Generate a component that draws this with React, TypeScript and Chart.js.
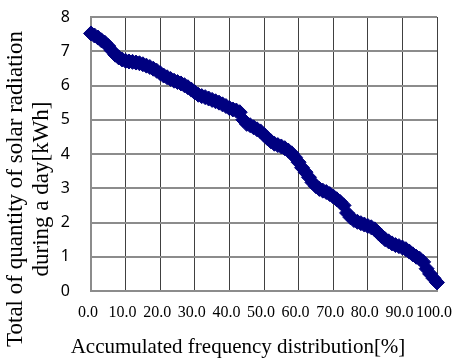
import React, { useEffect, useRef } from "react";
import { Chart, registerables } from "chart.js";

Chart.register(...registerables);

// Accumulated frequency distribution [%]
const frequencyPct: number[] = [
  0, 1, 2, 3, 4, 5, 6, 7, 8, 9,
  10, 11, 12, 13, 14, 15, 16, 17, 18, 19,
  20, 21, 22, 23, 24, 25, 26, 27, 28, 29,
  30, 31, 32, 33, 34, 35, 36, 37, 38, 39,
  40, 41, 42, 43, 44, 45, 46, 47, 48, 49,
  50, 51, 52, 53, 54, 55, 56, 57, 58, 59,
  60, 61, 62, 63, 64, 65, 66, 67, 68, 69,
  70, 71, 72, 73, 74, 75, 76, 77, 78, 79,
  80, 81, 82, 83, 84, 85, 86, 87, 88, 89,
  90, 91, 92, 93, 94, 95, 96, 97, 98, 99,
  100,
];

// Total quantity of solar radiation during a day [kWh]
const solarKWh: number[] = [
  7.52, 7.46, 7.4, 7.32, 7.25, 7.15, 7.02, 6.9, 6.82, 6.76,
  6.72, 6.7, 6.69, 6.67, 6.65, 6.62, 6.58, 6.54, 6.49, 6.43,
  6.36, 6.29, 6.24, 6.19, 6.14, 6.1, 6.06, 6.01, 5.95, 5.88,
  5.8, 5.73, 5.69, 5.66, 5.62, 5.58, 5.54, 5.5, 5.45, 5.4,
  5.34, 5.3, 5.27, 5.22, 5.0, 4.88, 4.84, 4.78, 4.72, 4.66,
  4.56, 4.46, 4.37, 4.3, 4.26, 4.22, 4.17, 4.1, 4.02, 3.9,
  3.76, 3.6, 3.47, 3.32, 3.17, 3.06, 2.98, 2.93, 2.89, 2.83,
  2.76, 2.68, 2.6, 2.5, 2.28, 2.15, 2.07, 2.02, 1.98, 1.94,
  1.9, 1.86, 1.8, 1.7, 1.6, 1.51, 1.45, 1.39, 1.34, 1.31,
  1.27, 1.22, 1.15, 1.07, 1.0, 0.94, 0.85, 0.65, 0.5, 0.37,
  0.25,
];

const xTitle = "Accumulated frequency distribution[%]";
const yTitleLines = ["Total of quantity of solar radiation", "during a day[kWh]"];

const SERIF = '"Liberation Serif", "Times New Roman", serif';

const titlePlugin = {
  id: "axisTitles",
  afterDraw(chart: any) {
    const ctx = chart.ctx as CanvasRenderingContext2D;
    ctx.save();
    ctx.fillStyle = "#000000";
    ctx.textAlign = "center";
    ctx.textBaseline = "middle";
    ctx.font = `21px ${SERIF}`;
    ctx.fillText(xTitle, 238, 347);
    ctx.font = `23px ${SERIF}`;
    const xs = [16, 42];
    yTitleLines.forEach((line, i) => {
      ctx.save();
      ctx.translate(xs[i], 189);
      ctx.rotate(-Math.PI / 2);
      ctx.fillText(line, 0, 0);
      ctx.restore();
    });
    ctx.restore();
  },
};

export default function App() {
  const ref = useRef<HTMLCanvasElement | null>(null);

  useEffect(() => {
    if (!ref.current) return;
    const chart = new Chart(ref.current, {
      type: "scatter",
      data: {
        datasets: [
          {
            data: frequencyPct.map((x, i) => ({ x, y: solarKWh[i] })),
            pointStyle: "rectRot",
            pointRadius: 7.5,
            pointHoverRadius: 7.5,
            pointBorderWidth: 1,
            backgroundColor: "#000080",
            borderColor: "#000080",
            showLine: false,
            clip: false as any,
          },
        ],
      },
      options: {
        animation: false,
        responsive: false,
        maintainAspectRatio: false,
        layout: { padding: { top: 17, right: 18, left: 0, bottom: 0 } },
        plugins: {
          legend: { display: false },
          tooltip: { enabled: false },
        },
        scales: {
          x: {
            type: "linear",
            min: 0,
            max: 100,
            afterFit: (s: any) => {
              s.height = 69;
            },
            grid: {
              color: "#404040",
              lineWidth: 1,
              drawTicks: true,
              tickLength: 12,
              tickColor: "rgba(0,0,0,0)",
            },
            border: { color: "#8c8c8c", width: 2 },
            ticks: {
              stepSize: 10,
              autoSkip: false,
              maxRotation: 0,
              minRotation: 0,
              padding: 0,
              labelOffset: -3,
              color: "#000000",
              font: { family: SERIF, size: 16 },
              callback: (v: any) => Number(v).toFixed(1),
            },
          },
          y: {
            type: "linear",
            min: 0,
            max: 8,
            afterFit: (s: any) => {
              s.width = 91;
            },
            grid: {
              color: "#8c8c8c",
              lineWidth: 2,
              drawTicks: true,
              tickLength: 21,
              tickColor: "rgba(0,0,0,0)",
            },
            border: { color: "#8c8c8c", width: 2 },
            ticks: {
              stepSize: 1,
              padding: 0,
              color: "#000000",
              font: { family: '"Noto Sans", "Open Sans", sans-serif', size: 16 },
            },
          },
        },
      },
      plugins: [titlePlugin],
    });
    return () => chart.destroy();
  }, []);

  return (
    <div style={{ position: "fixed", left: 0, top: 0, width: 455, height: 360, background: "#ffffff" }}>
      <canvas ref={ref} width={455} height={360} style={{ width: 455, height: 360, display: "block" }} />
    </div>
  );
}
